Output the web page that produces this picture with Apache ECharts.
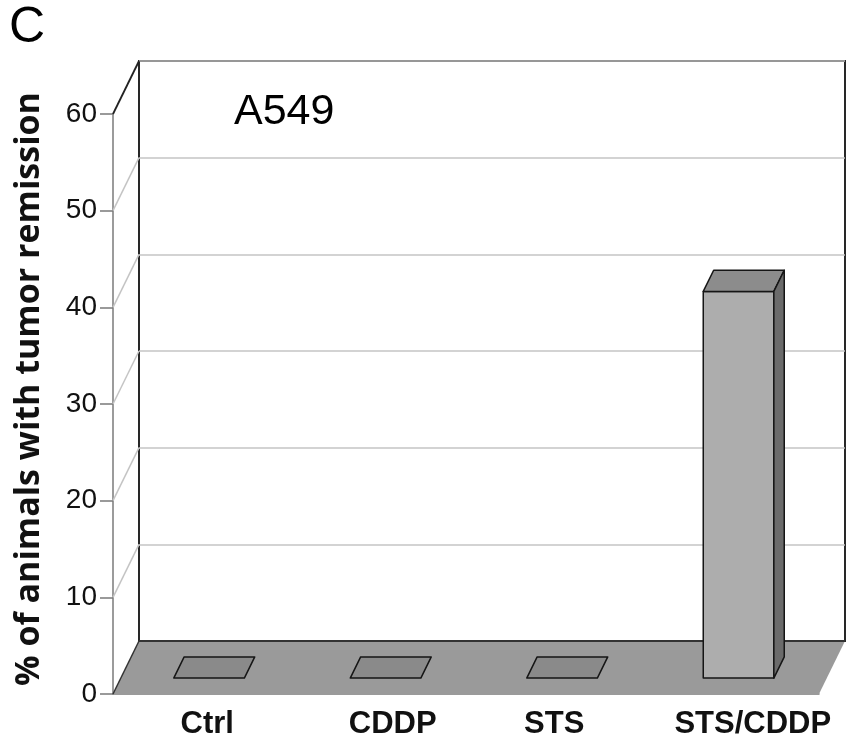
<!DOCTYPE html>
<html>
<head>
<meta charset="utf-8">
<script src="https://cdn.jsdelivr.net/npm/echarts@6/dist/echarts.min.js"></script>
<style>html,body{margin:0;padding:0;background:#fff}#c{width:847px;height:751px}</style>
</head>
<body>
<div id="c"></div>
<script>
// ---- data ----
const categories = ['Ctrl', 'CDDP', 'STS', 'STS/CDDP'];
const remission = [0, 0, 0, 40];
const yMin = 0, yMax = 60, yStep = 10;
const yTickValues = [10, 20, 30, 40, 50, 60];
const panelLabel = 'C';
const cellLine = 'A549';
const yTitle = '% of animals with tumor remission';

// ---- 3D projection / style constants ----
const DX = 26, DY = -53;
const F0 = 0.3, F1 = 0.7; // bar depth span (fraction of depth)
const BARW = 0.4;         // bar width fraction of category band
const LABEL_SHIFT = [6, 15, 0, 22]; // horizontal nudge of category labels (px)

const chart = echarts.init(document.getElementById('c'), null, {renderer: 'canvas'});

function renderScene(params, api) {
  const cs = params.coordSys;
  const x0 = cs.x, x1 = cs.x + cs.width;
  const yZero = api.coord([0, 0])[1];
  const ch = [];
  ch.push({type: 'polygon', shape: {points: [[x0, yZero], [x1, yZero], [x1 + DX, yZero + DY], [x0 + DX, yZero + DY]]},
    style: {fill: '#9a9a9a'}});
  ch.push({type: 'line', shape: {x1: x0 + DX, y1: yZero + DY, x2: x1 + DX, y2: yZero + DY}, style: {stroke: '#111', lineWidth: 1.5}});
  ch.push({type: 'line', shape: {x1: x0, y1: yZero, x2: x0 + DX, y2: yZero + DY}, style: {stroke: '#333', lineWidth: 1.5}});
  yTickValues.forEach(v => {
    const y = api.coord([0, v])[1];
    const top = v === yMax;
    ch.push({type: 'line', shape: {x1: x0, y1: y, x2: x0 + DX, y2: y + DY},
      style: {stroke: top ? '#222' : '#c4c4c4', lineWidth: top ? 1.8 : 1.5}});
  });
  return {type: 'group', children: ch};
}

function renderBar(params, api) {
  const i = api.value(0), v = api.value(1);
  const top = api.coord([i, v]), base = api.coord([i, 0]);
  const bw = api.size([1, 0])[0] * BARW;
  const xl = top[0] - bw / 2 + F0 * DX, xr = xl + bw;
  const yb = base[1] + F0 * DY, yt = top[1] + F0 * DY;
  const ddx = (F1 - F0) * DX, ddy = (F1 - F0) * DY;
  const stroke = {stroke: '#151515', lineWidth: 1.5, lineJoin: 'round'};
  const ch = [];
  if (v > 0) {
    ch.push({type: 'polygon', shape: {points: [[xl, yt], [xr, yt], [xr, yb], [xl, yb]]}, style: Object.assign({fill: '#adadad'}, stroke)});
    ch.push({type: 'polygon', shape: {points: [[xl, yt], [xl + ddx, yt + ddy], [xr + ddx, yt + ddy], [xr, yt]]}, style: Object.assign({fill: '#8c8c8c'}, stroke)});
    ch.push({type: 'polygon', shape: {points: [[xr, yt], [xr + ddx, yt + ddy], [xr + ddx, yb + ddy], [xr, yb]]}, style: Object.assign({fill: '#6b6b6b'}, stroke)});
  } else {
    ch.push({type: 'polygon', shape: {points: [[xl, yb], [xl + ddx, yb + ddy], [xr + ddx, yb + ddy], [xr, yb]]}, style: Object.assign({fill: '#8a8a8a'}, stroke)});
  }
  return {type: 'group', children: ch};
}

const labelRich = {};
LABEL_SHIFT.forEach((s, i) => {
  labelRich['c' + i] = {fontSize: 31, fontWeight: 'bold', color: '#111', fontFamily: 'Liberation Sans', padding: [0, 0, 0, 2 * s]};
});

const option = {
  animation: false,
  backgroundColor: '#fff',
  textStyle: {fontFamily: 'Liberation Sans, Arial, sans-serif'},
  title: [
    {text: panelLabel, left: 4, top: -2, textStyle: {fontSize: 50, fontWeight: 'normal', color: '#000', fontFamily: 'Liberation Sans'}},
    {text: cellLine, left: 229, top: 86, textStyle: {fontSize: 43, fontWeight: 'normal', color: '#000', fontFamily: 'Liberation Sans'}}
  ],
  graphic: [{
    type: 'text', x: 29, y: 389, rotation: Math.PI / 2,
    style: {text: yTitle, fontSize: 34, fontWeight: 'bold', fontFamily: 'Open Sans', fill: '#111', align: 'center', verticalAlign: 'middle'}
  }],
  grid: [
    {left: 113, top: 114, width: 706, height: 580},
    {left: 139, top: 61, width: 706, height: 580, show: true, backgroundColor: '#fff', borderColor: '#111', borderWidth: 1.8}
  ],
  xAxis: [
    {gridIndex: 0, type: 'category', data: categories,
      axisLine: {lineStyle: {color: '#7a7a7a', width: 1.5}},
      axisTick: {length: 9, lineStyle: {color: '#7a7a7a', width: 1.5}},
      axisLabel: {interval: 0, fontSize: 31, fontWeight: 'bold', color: '#111', margin: 15, fontFamily: 'Liberation Sans',
        formatter: (val, idx) => '{c' + idx + '|' + val + '}', rich: labelRich}},
    {gridIndex: 1, type: 'category', data: categories, show: false}
  ],
  yAxis: [
    {gridIndex: 0, type: 'value', min: yMin, max: yMax, interval: yStep,
      axisLine: {show: true, lineStyle: {color: '#7a7a7a', width: 1.5}},
      axisTick: {show: true, length: 13, lineStyle: {color: '#7a7a7a', width: 1.5}},
      splitLine: {show: false},
      axisLabel: {fontSize: 28, color: '#111', margin: 16, fontFamily: 'Liberation Sans'}},
    {gridIndex: 1, type: 'value', min: yMin, max: yMax, interval: yStep,
      axisLine: {show: false}, axisTick: {show: false}, axisLabel: {show: false},
      splitLine: {show: true, lineStyle: {color: '#c4c4c4', width: 1.5}}}
  ],
  series: [
    {type: 'custom', xAxisIndex: 0, yAxisIndex: 0, data: [[0, 0]], renderItem: renderScene, z: 1, silent: true},
    {type: 'custom', xAxisIndex: 0, yAxisIndex: 0, data: categories.map((c, i) => [i, remission[i]]),
      encode: {x: 0, y: 1}, renderItem: renderBar, z: 3}
  ]
};
chart.setOption(option);
</script>
</body>
</html>
